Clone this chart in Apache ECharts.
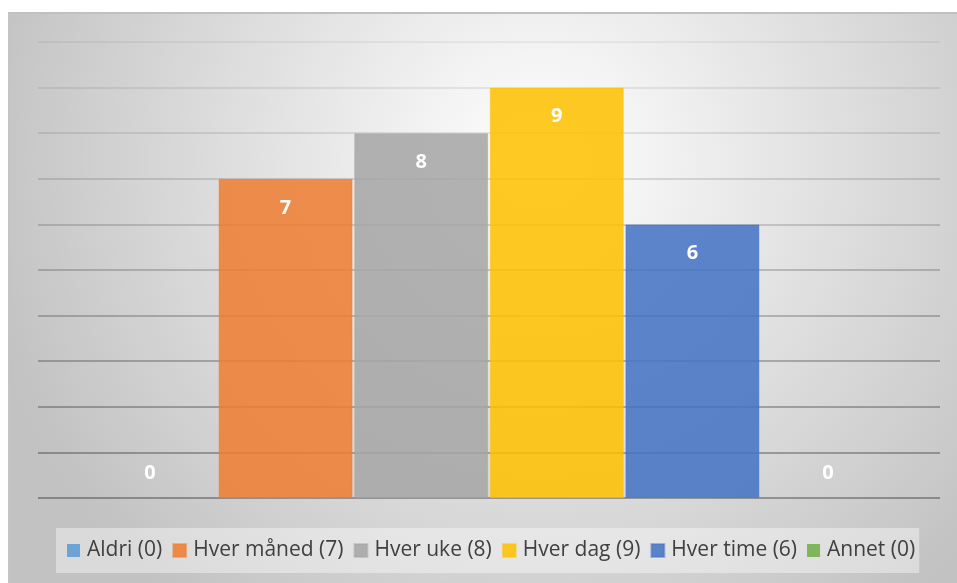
<!DOCTYPE html>
<html>
<head>
<meta charset="utf-8">
<script src="https://cdn.jsdelivr.net/npm/echarts@6/dist/echarts.min.js"></script>
<style>
  html, body { margin: 0; padding: 0; background: #ffffff; }
  #chart { width: 957px; height: 583px; }
</style>
</head>
<body>
<div id="chart"></div>
<script>
// ---- Data ----
const categories = ['Aldri', 'Hver måned', 'Hver uke', 'Hver dag', 'Hver time', 'Annet'];
const values = [0, 7, 8, 9, 6, 0];
const colors = ['#5B9BD5', '#ED7D31', '#A5A5A5', '#FFC000', '#4472C4', '#70AD47'];
const yTicks = [0, 1, 2, 3, 4, 5, 6, 7, 8, 9, 10];

const FONT = '"Open Sans", "Noto Sans", sans-serif';

function hexToRgba(hex, a) {
  const n = parseInt(hex.slice(1), 16);
  return 'rgba(' + ((n >> 16) & 255) + ',' + ((n >> 8) & 255) + ',' + (n & 255) + ',' + a + ')';
}

const gridColors = [0.42, 0.39, 0.36, 0.33, 0.29, 0.25, 0.21, 0.17, 0.13, 0.1, 0.07].map(a => 'rgba(0,0,0,' + a + ')');

const series = categories.map((c, i) => ({
  name: c + ' (' + values[i] + ')',
  type: 'bar',
  data: [values[i]],
  barWidth: 134,
  barGap: '1.2%',
  z: 1,
  itemStyle: {
    color: hexToRgba(colors[i], 0.86),
    borderColor: hexToRgba(colors[i], 0.45),
    borderWidth: values[i] === 0 ? 0 : 1
  },
  label: {
    show: true,
    position: values[i] === 0 ? 'top' : 'insideTop',
    distance: values[i] === 0 ? 15 : 19,
    color: '#ffffff',
    fontFamily: FONT,
    fontWeight: 'bold',
    fontSize: 20
  }
}));

const chart = echarts.init(document.getElementById('chart'), null, { renderer: 'canvas' });
chart.setOption({
  animation: false,
  backgroundColor: '#ffffff',
  graphic: [
    {
      type: 'rect',
      z: -10,
      silent: true,
      shape: { x: 8, y: 12, width: 949, height: 571 },
      style: {
        fill: {
          type: 'radial', x: 0.56, y: 0.26, r: 1.0,
          colorStops: [
            { offset: 0, color: '#ffffff' },
            { offset: 1, color: '#c2c2c2' }
          ]
        }
      }
    },
    {
      type: 'rect',
      z: -9,
      silent: true,
      shape: { x: 8, y: 12, width: 949, height: 2 },
      style: { fill: '#c0c0c0' }
    },
    {
      type: 'rect',
      z: -9,
      silent: true,
      shape: { x: 8, y: 12, width: 1, height: 571 },
      style: { fill: '#c4c4c4' }
    }
  ],
  grid: { left: 38, width: 902, top: 42, height: 456, containLabel: false },
  xAxis: {
    type: 'category',
    data: [''],
    axisLine: { show: false },
    axisTick: { show: false },
    axisLabel: { show: false }
  },
  yAxis: {
    type: 'value',
    min: yTicks[0],
    max: yTicks[yTicks.length - 1],
    interval: 1,
    axisLine: { show: false },
    axisTick: { show: false },
    axisLabel: { show: false },
    splitLine: { show: true, z: 5, lineStyle: { color: gridColors, width: 1.5 } }
  },
  legend: {
    left: 56,
    top: 528,
    padding: [10, 4, 10, 11],
    itemWidth: 13,
    itemHeight: 13,
    itemGap: 10,
    icon: 'rect',
    backgroundColor: 'rgba(255,255,255,0.4)',
    textStyle: { fontFamily: FONT, fontSize: 21, color: '#404040', padding: [0, 0, 0, 2], lineHeight: 25 },
    data: series.map(s => s.name)
  },
  series: series
});
</script>
</body>
</html>
